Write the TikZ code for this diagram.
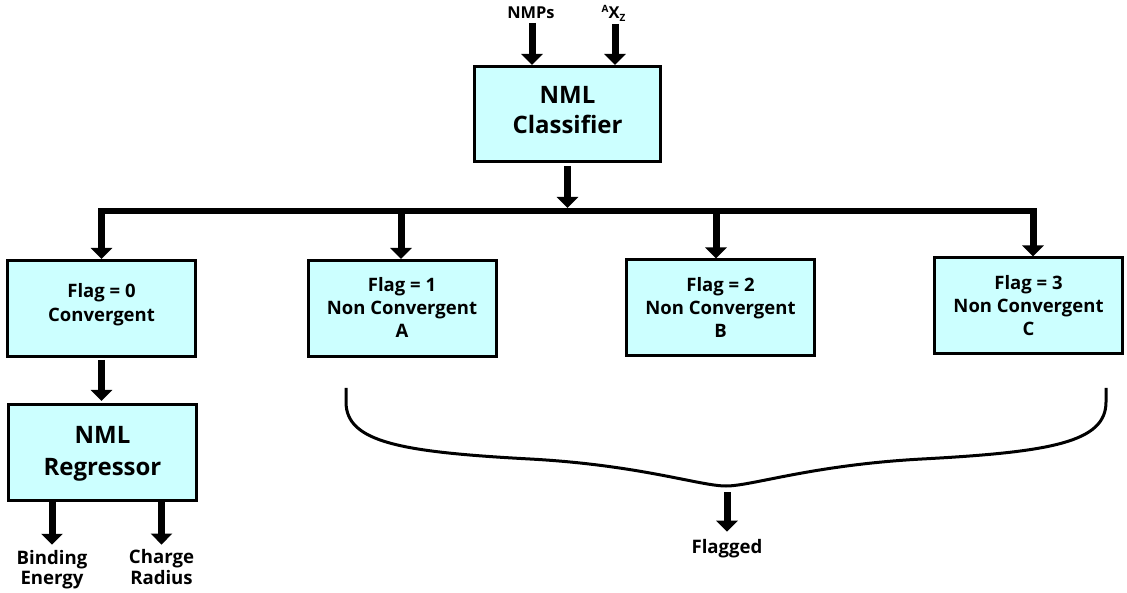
\documentclass[tikz,border=0pt]{standalone}
\usepackage{fontspec}
\setmainfont{Open Sans}
\usetikzlibrary{arrows.meta}
\definecolor{boxfill}{RGB}{204,255,255}
\begin{document}
\begin{tikzpicture}[x=1pt,y=-1pt,
  box/.style={draw=black,line width=3pt,fill=boxfill,inner sep=0pt,
    minimum width=188pt,minimum height=96pt},
  boxtxt/.style={inner sep=0pt,align=center,font=\bfseries\fontsize{18.5}{23}\selectfont},
  bigtxt/.style={inner sep=0pt,align=center,font=\bfseries\fontsize{24}{30}\selectfont},
  arr/.style={line width=7pt,-{Triangle[width=21pt,length=11pt]}},
  lbl/.style={inner sep=0pt,align=center,font=\bfseries\fontsize{18.6}{20.5}\selectfont},
  toplbl/.style={inner sep=0pt,font=\bfseries\fontsize{16.4}{18}\selectfont},
  sscript/.style={},
]
\useasboundingbox (0,0) rectangle (1127,593);

% top inputs
\node[toplbl,anchor=base] (nmps) at (531,18.5) {NMPs};
\node[toplbl,anchor=base] (axz) at (613.5,18.5) {{\fontsize{10}{10}\selectfont\raisebox{6pt}{A}}X{\fontsize{10}{10}\selectfont\raisebox{-3.5pt}{Z}}};

% classifier
\node[box,minimum width=186pt,minimum height=95pt] (cls) at (567.5,114) {};
\node[bigtxt] (clst) at (567.5,109.75) {NML\\Classifier};

\coordinate (na) at (532,23);
\coordinate (xa) at (615,24);
\draw[arr] (na) -- (na |- cls.north);
\draw[arr] (xa) -- (xa |- cls.north);

% bar
\coordinate (barL) at (98,211);
\coordinate (barR) at (1037,211);
\draw[line width=6pt] (barL) -- (barR);
\coordinate (barc) at (567.5,208);
\draw[arr,shorten <=3pt] (cls.south) -- (barc);

% flag boxes
\node[box] (b0) at (101.5,308.5) {};
\node[box] (b1) at (402,308.5) {};
\node[box] (b2) at (720.5,308) {};
\node[box] (b3) at (1028.5,306) {};
\node[boxtxt,font=\bfseries\fontsize{18.5}{24}\selectfont] (b0t) at (101.5,304.2) {Flag = 0\\Convergent};
\node[boxtxt] (b1t) at (402,307.7) {Flag = 1\\Non Convergent\\A};
\node[boxtxt] (b2t) at (720.5,307.5) {Flag = 2\\Non Convergent\\B};
\node[boxtxt] (b3t) at (1028.5,305.5) {Flag = 3\\Non Convergent\\C};

\coordinate (t0) at (101.5,214);
\coordinate (t1) at (401,214);
\coordinate (t2) at (716,214);
\coordinate (t3) at (1033,214);
\draw[arr] (t0) -- (t0 |- b0.north);
\draw[arr] (t1) -- (t1 |- b1.north);
\draw[arr] (t2) -- (t2 |- b2.north);
\draw[arr] (t3) -- (t3 |- b3.north);

% regressor
\node[box] (reg) at (102.5,452.5) {};
\node[bigtxt,font=\bfseries\fontsize{24}{32}\selectfont] (regt) at (102.5,453.6) {NML\\Regressor};
\draw[arr,shorten <=2pt,shorten >=2pt] (b0.south) -- (b0.south |- reg.north);

% outputs
\node[lbl] (be) at (52,569.5) {Binding\\Energy};
\node[lbl] (cr) at (161.5,567.2) {Charge\\Radius};
\draw[arr,shorten >=5pt] (reg.south -| be) -- (be.north);
\draw[arr,shorten >=5pt] (reg.south -| cr) -- (cr.north);

% brace
\coordinate (brL) at (346,388);
\coordinate (brR) at (1106,388);
\coordinate (tip) at (726,486);
\draw[line width=3pt] (brL) -- (346,402) .. controls (346,442) and (400,452) .. (530,459)
  .. controls (640,465) and (700,486) .. (tip)
  .. controls (752,486) and (812,465) .. (922,459)
  .. controls (1052,452) and (1106,442) .. (1106,402) -- (brR);

\node[lbl,anchor=base] (fl) at (727,553) {Flagged};
\coordinate (tipb) at (727,492);
\draw[arr,shorten >=7pt] (tipb) -- (fl.north);
\end{tikzpicture}
\end{document}
